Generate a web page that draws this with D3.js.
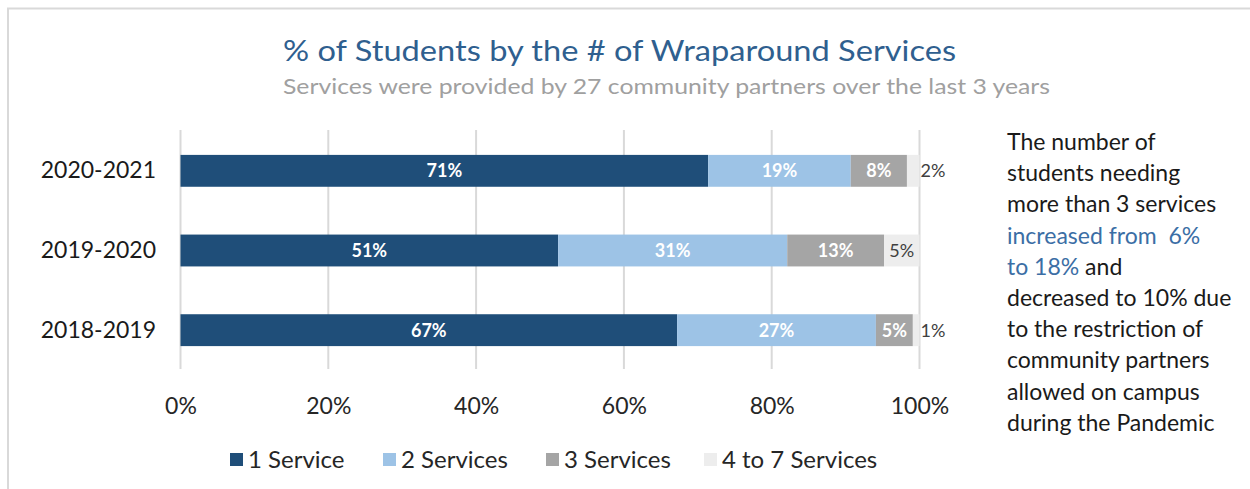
<!DOCTYPE html>
<html>
<head>
<meta charset="utf-8">
<script src="https://cdn.jsdelivr.net/npm/d3@7"></script>
<style>
  body { margin: 0; background: #fff; }
  svg { display: block; font-family: Lato, "Open Sans", sans-serif; }
</style>
</head>
<body>
<svg id="chart" width="1250" height="489"></svg>
<script>
// Data
const years = ["2020-2021", "2019-2020", "2018-2019"];
const seriesNames = ["1 Service", "2 Services", "3 Services", "4 to 7 Services"];
const oneService = [71.4, 51.1, 67.2];
const twoServices = [19.3, 31.0, 26.9];
const threeServices = [7.6, 13.1, 5.0];
const fourToSeven = [1.7, 4.8, 0.9];
const xTicks = [0, 20, 40, 60, 80, 100];
const colors = ["#1F4E79", "#9DC3E6", "#A5A5A5", "#EDEDED"];
const labelColors = ["#fff", "#fff", "#fff", "#404040"];
const noteLines = [
    [["The number of", "#1a1a1a"]],
    [["students needing", "#1a1a1a"]],
    [["more than 3 services", "#1a1a1a"]],
    [["increased from  6%", "#3B6EA5"]],
    [["to 18%", "#3B6EA5"], [" and", "#1a1a1a"]],
    [["decreased to 10% due", "#1a1a1a"]],
    [["to the restriction of", "#1a1a1a"]],
    [["community partners", "#1a1a1a"]],
    [["allowed on campus", "#1a1a1a"]],
    [["during the Pandemic", "#1a1a1a"]]
];

const svg = d3.select("#chart");

// outer frame (top and left edges visible)
svg.append("path")
    .attr("d", "M8,489 V8.5 H1250")
    .attr("fill", "none")
    .attr("stroke", "#D9D9D9")
    .attr("stroke-width", 2);

// title + subtitle
svg.append("text")
    .attr("x", 283).attr("y", 61)
    .attr("textLength", 673).attr("lengthAdjust", "spacingAndGlyphs")
    .attr("font-size", 29)
    .attr("fill", "#2F5F8F")
    .text("% of Students by the # of Wraparound Services");
svg.append("text")
    .attr("x", 283).attr("y", 94)
    .attr("textLength", 767).attr("lengthAdjust", "spacingAndGlyphs")
    .attr("font-size", 21)
    .attr("fill", "#A0A0A0")
    .text("Services were provided by 27 community partners over the last 3 years");

// stacked rows
const rows = years.map(function(y, i) {
    return { year: y, values: [oneService[i], twoServices[i], threeServices[i], fourToSeven[i]] };
});

const x = d3.scaleLinear().domain([0, 100]).range([180.5, 919.5]);
const y = d3.scaleBand().domain(years).range([131, 370]).paddingInner(0.6).paddingOuter(0.3);

// gridlines
svg.append("g")
    .selectAll("line")
    .data(xTicks)
    .enter()
    .append("line")
    .attr("x1", d => x(d)).attr("x2", d => x(d))
    .attr("y1", 130).attr("y2", 369)
    .attr("stroke", "#D9D9D9")
    .attr("stroke-width", 2);

// x axis labels
const xAxis = svg.append("g")
    .attr("transform", "translate(0,393)")
    .call(d3.axisBottom(x).tickValues(xTicks).tickFormat(d => d + "%").tickSize(0).tickPadding(0));
xAxis.select(".domain").remove();
xAxis.selectAll("text")
    .attr("font-size", 23)
    .attr("font-family", "Lato, sans-serif")
    .attr("fill", "#262626")
    .attr("dy", "0.9em");

// y axis labels
const yAxis = svg.append("g")
    .attr("transform", "translate(156,0)")
    .call(d3.axisLeft(y).tickSize(0).tickPadding(0));
yAxis.select(".domain").remove();
yAxis.selectAll("text")
    .attr("font-size", 23)
    .attr("font-family", "Lato, sans-serif")
    .attr("fill", "#1a1a1a");

const rowG = svg.append("g")
    .selectAll("g")
    .data(rows)
    .enter()
    .append("g");

rowG.each(function(row) {
    const g = d3.select(this);
    let acc = 0;
    const segs = row.values.map(function(v, k) {
        const s = { k: k, v: v, x0: acc, x1: acc + v };
        acc += v;
        return s;
    });
    g.selectAll("rect")
        .data(segs)
        .enter()
        .append("rect")
        .attr("x", d => x(d.x0))
        .attr("width", d => x(d.x1) - x(d.x0))
        .attr("y", y(row.year))
        .attr("height", y.bandwidth())
        .attr("fill", d => colors[d.k]);
    g.selectAll("text")
        .data(segs)
        .enter()
        .append("text")
        .attr("y", y(row.year) + y.bandwidth() / 2)
        .attr("dy", "0.36em")
        .attr("font-size", 18)
        .attr("font-weight", d => d.k === 3 ? "normal" : "bold")
        .attr("fill", d => labelColors[d.k])
        .text(d => Math.round(d.v) + "%")
        .each(function(d) {
            const w = this.getComputedTextLength();
            const segW = x(d.x1) - x(d.x0);
            if (w + 4 > segW) {
                d3.select(this).attr("x", x(d.x1) + 1).attr("text-anchor", "start");
            } else {
                d3.select(this).attr("x", (x(d.x0) + x(d.x1)) / 2).attr("text-anchor", "middle");
            }
        });
});

// legend
const legendX = [230, 383, 546, 704];
const legend = svg.append("g")
    .selectAll("g")
    .data(seriesNames)
    .enter()
    .append("g")
    .attr("transform", (d, i) => "translate(" + legendX[i] + ",453)");
legend.append("rect")
    .attr("width", 13).attr("height", 13)
    .attr("fill", (d, i) => colors[i]);
legend.append("text")
    .attr("x", 18).attr("y", 15)
    .attr("font-size", 24)
    .attr("fill", "#262626")
    .text(d => d);

// side note
const note = svg.append("g")
    .selectAll("text")
    .data(noteLines)
    .enter()
    .append("text")
    .attr("x", 1007)
    .attr("y", (d, i) => 150 + i * 31.2)
    .attr("font-size", 23);
note.selectAll("tspan")
    .data(d => d)
    .enter()
    .append("tspan")
    .attr("fill", d => d[1])
    .attr("xml:space", "preserve")
    .style("white-space", "pre")
    .text(d => d[0]);
</script>
</body>
</html>
